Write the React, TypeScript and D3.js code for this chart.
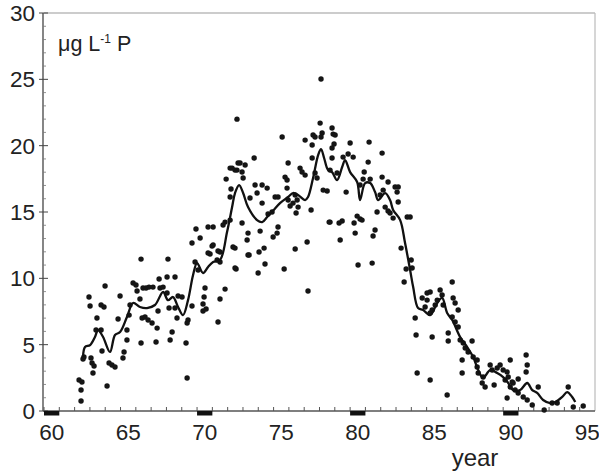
import React from "react";
import * as d3 from "d3";

// Monthly samples: [year, µg/L P]
const samples: [number, number][] = [
  [62.29,2.34],[62.48,2.19],[62.42,1.58],[62.42,0.75],[62.61,4.07],[62.55,3.92],[62.94,8.59],[63.01,7.91],
  [63.07,3.99],[63.14,3.62],[63.27,3.39],[63.2,2.86],[63.4,6.1],[63.46,7.01],[63.73,7.99],[63.92,7.84],
  [63.73,6.1],[63.79,4.52],[63.99,9.42],[64.12,1.88],[64.25,3.62],[64.44,3.47],[64.64,3.32],[64.84,6.93],
  [64.97,8.67],[65.16,3.99],[65.23,4.45],[65.42,6.1],[65.42,5.35],[65.56,7.23],[65.62,7.99],[65.82,9.65],
  [66.01,9.5],[66.08,9.04],[66.34,11.45],[66.41,7.01],[66.34,5.12],[66.27,8.44],[66.47,9.27],[66.6,7.08],
  [66.67,9.27],[66.8,6.86],[66.86,9.34],[67.06,6.63],[67.12,9.34],[67.32,5.2],[67.39,6.25],[67.45,7.54],
  [67.52,9.95],[67.58,9.27],[67.78,9.34],[68.04,10.1],[68.04,8.89],[68.1,11.45],[68.17,7.76],[68.24,5.35],
  [68.37,5.95],[68.56,10.1],[68.56,7.76],[68.69,7.01],[68.76,8.67],[69.02,8.59],[69.28,5.12],[69.35,2.49],
  [69.41,6.86],[69.35,6.63],[69.67,7.91],[69.67,12.66],[69.93,13.72],[69.87,11.23],[70.07,10.63],[70.2,13.04],
  [70.39,8.06],[70.39,7.54],[70.46,8.59],[70.52,9.27],[70.59,7.69],[70.72,13.87],[71.05,13.87],[70.98,12.43],
  [70.85,11.83],[71.31,11.38],[71.37,12.06],[71.5,11.23],[71.37,6.71],[71.5,8.44],[71.83,9.19],[71.83,14.24],
  [71.7,14.02],[71.9,17.48],[72.16,18.31],[72.48,18.16],[72.22,16.73],[72.16,16.13],[72.16,14.39],[72.35,12.36],
  [72.55,10.7],[72.68,18.69],[72.61,22.0],[72.81,18.69],[73.14,18.54],[72.61,18.16],[72.94,18.01],[73.01,17.56],
  [72.94,14.17],[73.33,13.41],[73.27,12.89],[72.48,12.28],[73.4,11.76],[73.73,19.07],[73.46,16.05],[73.79,17.03],
  [73.92,16.43],[74.25,17.03],[74.58,16.8],[74.25,15.67],[74.05,11.98],[73.99,10.4],[74.12,13.56],[74.38,12.28],
  [74.44,11.08],[74.64,14.85],[74.9,15.0],[74.97,13.11],[75.1,16.13],[75.29,16.13],[75.23,13.41],[75.29,13.87],
  [75.56,20.65],[75.69,10.7],[75.75,17.63],[75.88,17.41],[75.88,16.8],[75.95,18.69],[75.95,15.9],[76.08,15.45],
  [76.27,15.67],[76.41,16.28],[76.54,15.9],[76.6,15.37],[76.47,14.92],[76.41,12.21],[76.73,18.31],[76.86,18.01],
  [77.06,20.42],[77.06,17.78],[77.19,12.74],[77.25,9.04],[77.45,15.15],[77.52,20.05],[77.52,19.07],[77.58,20.8],
  [77.71,20.65],[77.71,17.94],[77.84,17.56],[78.04,21.7],[78.1,25.02],[78.17,20.95],[78.1,20.65],[78.24,16.65],
  [78.5,16.58],[78.63,14.24],[78.82,21.33],[78.89,20.87],[78.82,19.82],[78.82,19.07],[79.02,20.8],[78.95,20.12],
  [78.69,18.16],[79.15,17.94],[78.69,14.24],[79.28,14.17],[79.48,14.32],[79.35,12.89],[79.54,19.14],[79.87,19.37],
  [80.0,20.2],[80.2,19.14],[79.74,16.5],[80.26,14.17],[80.33,13.41],[80.46,14.69],[80.65,14.47],[80.78,14.39],
  [80.52,11.0],[80.65,17.03],[80.85,17.48],[80.92,18.01],[81.18,18.76],[81.24,20.27],[81.31,17.48],[81.44,11.15],
  [81.5,13.19],[81.63,13.64],[81.76,15.0],[81.96,16.28],[82.09,19.44],[82.09,17.63],[82.16,16.65],[82.29,15.37],
  [82.48,17.26],[82.48,15.07],[82.61,14.92],[82.81,14.54],[82.94,16.88],[83.14,16.88],[83.07,16.5],[83.14,15.75],
  [83.33,12.28],[83.53,9.72],[83.66,10.7],[83.73,14.62],[83.92,14.62],[83.99,11.38],[84.05,10.78],[84.25,7.01],
  [84.31,5.73],[84.38,2.86],[84.71,8.52],[84.9,7.84],[85.03,8.89],[85.23,7.39],[85.23,2.34],[85.03,8.36],
  [85.23,8.97],[85.36,7.61],[85.36,5.58],[85.56,7.99],[85.69,8.36],[85.88,9.12],[86.01,8.74],[86.08,7.99],
  [86.34,1.21],[86.41,5.88],[86.41,5.28],[86.67,9.72],[86.73,8.52],[86.86,8.14],[87.06,7.61],[86.67,7.08],
  [86.86,6.71],[87.06,6.33],[87.19,5.35],[87.39,5.12],[87.97,5.28],[87.52,4.75],[87.71,4.45],[88.04,4.07],
  [87.32,3.84],[87.32,2.86],[88.3,3.84],[88.3,3.32],[88.37,2.86],[88.69,2.56],[88.63,2.11],[88.82,1.81],
  [89.15,3.47],[89.28,3.09],[89.61,3.24],[89.8,3.47],[90.0,3.09],[89.41,1.96],[90.46,3.84],[90.13,2.34],
  [90.59,2.19],[90.26,0.98],[91.5,4.22],[91.57,3.47],[91.5,2.94],[90.26,2.94],[90.33,2.56],[90.65,2.11],
  [90.98,2.41],[90.46,1.81],[90.78,1.58],[90.98,1.36],[91.31,1.06],[91.57,0.83],[91.9,0.45],[92.29,1.81],
  [92.68,0.08],[93.2,0.6],[93.53,0.6],[94.25,1.81],[94.58,0.3],[95.23,0.38],
  [71.05,12.51],[70.72,11.91],[71.5,11.98],[72.48,10.78],[73.33,11.76],[72.29,18.31],
];

// Running mean line
const runningYears = [
  62.55,62.68,63.01,63.33,63.53,63.86,64.31,64.64,64.97,65.42,65.82,66.27,66.73,67.25,67.78,68.1,68.43,68.76,
  69.08,69.41,69.74,70.0,70.39,70.72,71.05,71.5,71.96,72.29,72.48,72.75,73.01,73.33,73.92,74.25,74.58,74.97,
  75.42,75.95,76.27,76.6,77.06,77.25,77.58,77.91,78.1,78.3,78.56,78.82,79.15,79.48,79.67,80.0,80.46,80.65,
  80.98,81.31,81.63,81.83,82.29,82.61,82.81,83.27,83.59,83.92,84.12,84.44,84.77,85.23,85.69,86.01,86.34,86.67,
  87.19,87.65,88.04,88.37,88.69,89.15,89.61,90.0,90.33,90.65,91.11,91.57,91.9,92.22,92.61,93.07,93.4,93.86,
  94.18,94.51,94.71,
];
const runningValues = [
  4.07,4.82,4.97,5.58,6.1,5.58,4.45,5.73,5.95,7.08,8.14,7.84,7.76,7.99,8.97,8.36,8.59,7.84,
  7.23,8.36,10.25,11.15,10.4,10.85,11.23,11.38,13.49,15.37,16.43,17.03,16.43,15.37,14.39,14.24,14.62,15.11,
  15.67,16.13,16.43,16.28,15.9,16.13,17.56,19.29,19.74,19.07,18.16,18.01,17.41,18.39,18.91,18.01,17.26,15.9,
  17.18,17.18,16.5,15.9,16.43,15.9,15.15,14.39,12.66,10.63,9.34,7.76,7.61,7.23,8.14,8.52,7.39,6.86,
  5.58,4.82,4.07,3.09,2.49,3.09,2.86,2.56,2.11,1.58,1.58,2.11,1.58,1.36,0.83,0.6,0.68,1.06,
  1.43,1.06,0.68,
];

const yTicks = [0, 5, 10, 15, 20, 25, 30];
const xTickLabels = [60, 65, 70, 75, 80, 85, 90, 95];
const decadeBars = [60, 70, 80, 90];

export default function App() {
  const W = 599, H = 473;
  const x = d3.scaleLinear().domain([60, 96]).range([44, 595]);
  const y = d3.scaleLinear().domain([0, 30]).range([411, 13]);
  const lineGen = d3
    .line<number>()
    .x((_, i) => x(runningYears[i]))
    .y((d) => y(d))
    .curve(d3.curveCatmullRom.alpha(0.5));
  const years = d3.range(60, 96);
  const minorY = d3.range(1, 30).filter((v) => v % 5 !== 0);
  const font = "Liberation Sans, Arial, Helvetica, sans-serif";
  return (
    <svg
      width={W}
      height={H}
      style={{ position: "absolute", left: 0, top: 0, background: "#fff" }}
      fontFamily={font}
    >
      {/* frame */}
      <line x1={x(60)} x2={x(96)} y1={y(30)} y2={y(30)} stroke="#999" strokeWidth={1.2} />
      <line x1={x(96)} x2={x(96)} y1={y(30)} y2={y(0)} stroke="#bbb" strokeWidth={1.2} />
      <line x1={x(60) - 1} x2={x(60) - 1} y1={y(30)} y2={y(0)} stroke="#444" strokeWidth={1.3} />
      <line x1={x(60) - 1} x2={x(96)} y1={y(0)} y2={y(0)} stroke="#555" strokeWidth={1.3} />

      {/* y ticks */}
      {yTicks.map((t) => (
        <g key={t}>
          <line x1={x(60) - 5} x2={x(60) + 4} y1={y(t)} y2={y(t)} stroke="#444" strokeWidth={1} />
          <text x={35} y={y(t) + 8} textAnchor="end" fontSize={22.5} fill="#222">
            {t}
          </text>
        </g>
      ))}
      {minorY.map((t) => (
        <line key={t} x1={x(60) - 1} x2={x(60) + 2} y1={y(t)} y2={y(t)} stroke="#777" strokeWidth={0.8} />
      ))}

      {/* x ticks */}
      {years.map((yr) => (
        <line key={yr} x1={x(yr)} x2={x(yr)} y1={y(0)} y2={y(0) - 4} stroke="#555" strokeWidth={1} />
      ))}
      {decadeBars.map((yr) => (
        <rect key={yr} x={x(yr)} y={y(0)} width={x(yr + 1) - x(yr)} height={4.5} fill="#111" />
      ))}
      {xTickLabels.map((t) => (
        <text key={t} x={x(t + 0.5)} y={440} textAnchor="middle" fontSize={22.5} fill="#222">
          {t}
        </text>
      ))}
      <text x={475} y={466} textAnchor="middle" fontSize={24} fill="#222">
        year
      </text>

      {/* unit label */}
      <text x={58} y={51} fontSize={21.5} fill="#222">
        μg L
        <tspan fontSize={12} dy={-8}>-1</tspan>
        <tspan dy={8}> P</tspan>
      </text>

      {/* samples */}
      {samples.map(([yr, v], i) => (
        <circle key={i} cx={x(yr)} cy={y(v)} r={2.7} fill="#151515" />
      ))}

      {/* running mean */}
      <path d={lineGen(runningValues) || ""} fill="none" stroke="#111" strokeWidth={2.3} strokeLinejoin="round" />
    </svg>
  );
}
